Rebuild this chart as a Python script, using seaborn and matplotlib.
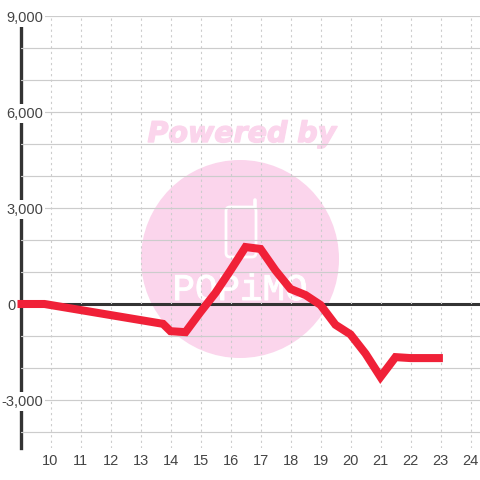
import matplotlib
matplotlib.use('Agg')
import matplotlib.pyplot as plt
import matplotlib.patheffects as pe
import pandas as pd
import seaborn as sns
from matplotlib.patches import Circle, FancyBboxPatch
from matplotlib.transforms import Affine2D

hours = [8.9, 9.8, 13.75, 14, 14.5, 15, 15.5, 16, 16.5, 17, 17.5, 18, 18.5, 19,
         19.5, 20, 20.5, 21, 21.5, 22, 23.08]
values = [0, 0, -620, -850, -880, -250, 350, 1050, 1780, 1720, 1050, 470, 280, -30,
          -650, -950, -1550, -2280, -1660, -1690, -1690]
x_ticks = list(range(10, 25))
y_ticks = list(range(9000, -5000, -1000))
y_labels = ['9,000', '', '', '6,000', '', '', '3,000', '', '', '0', '', '', '-3,000', '']

PINK = '#fbd5ec'
DARK = '#333333'
GRID = '#cccccc'
RED = '#f02138'

sns.set_theme(style='white')
plt.rcParams['font.family'] = ['Liberation Sans', 'DejaVu Sans']

fig = plt.figure(figsize=(4.8, 4.8), dpi=100)
ax = fig.add_axes([20.5 / 480, 32 / 480, 459.5 / 480, 432 / 480])

df = pd.DataFrame({'hour': hours, 'value': values})
sns.lineplot(data=df, x='hour', y='value', color=RED, linewidth=5.8, estimator=None, sort=False,
             ax=ax, zorder=4, clip_on=False, solid_capstyle='butt', solid_joinstyle='miter')

ax.set_xlim(9, 9 + 459.5 / 30)
ax.set_ylim(-4500, 9000)
ax.set_xlabel('')
ax.set_ylabel('')
ax.set_xticks(x_ticks)
ax.set_yticks(y_ticks)
ax.set_yticklabels(y_labels)
ax.set_axisbelow(False)

ax.grid(axis='y', color=GRID, linewidth=0.85)
ax.grid(axis='x', color=GRID, linewidth=0.8, linestyle=(0, (2, 3)))
ax.axhline(0, color=DARK, linewidth=2.2, zorder=2.4)

for side in ['top', 'right', 'bottom']:
    ax.spines[side].set_visible(False)
ax.spines['left'].set_color(DARK)
ax.spines['left'].set_linewidth(2.4)
ax.spines['left'].set_bounds(-4500, 8750)

ax.tick_params(axis='x', length=0, pad=4.5, labelsize=10.5, labelcolor='#444444')
ax.tick_params(axis='y', length=0, pad=-16.5, labelsize=10.5, labelcolor='#444444')
for label in ax.get_yticklabels():
    label.set_bbox(dict(facecolor='white', edgecolor='none', pad=1.5))

# zero tick sits left of the axis, its gridline is replaced by the dark line
zero_tick = ax.yaxis.get_major_ticks()[y_ticks.index(0)]
zero_tick.set_pad(3.2)
zero_tick.gridline.set_visible(False)

# watermark, placed in pixels from the top left corner
px = Affine2D().scale(1, -1).translate(0, 480)
ax.add_patch(Circle((240, 259), 99, facecolor=PINK, edgecolor='none', transform=px, zorder=0, clip_on=False))
ax.text(242, 134, 'Powered by', transform=px, color=PINK, ha='center', va='center', fontsize=20.5,
        fontweight='bold', fontstyle='italic', family='DejaVu Sans', zorder=0,
        path_effects=[pe.withStroke(linewidth=1.0, foreground=PINK)])
ax.text(240, 290, 'POPiMO', transform=px, color='white', ha='center', va='center', fontsize=27,
        family='Liberation Mono', zorder=0.5,
        path_effects=[pe.withStroke(linewidth=0.7, foreground='white')])
ax.add_patch(FancyBboxPatch((226, 207), 30, 50, boxstyle='round,pad=0,rounding_size=4', facecolor='none',
                            edgecolor='white', linewidth=2.0, transform=px, zorder=0.5, clip_on=False))
ax.plot([255, 255], [207, 200], color='white', linewidth=2.6, transform=px, zorder=0.5, clip_on=False)

fig.savefig('out.png', dpi=100, facecolor='white')
